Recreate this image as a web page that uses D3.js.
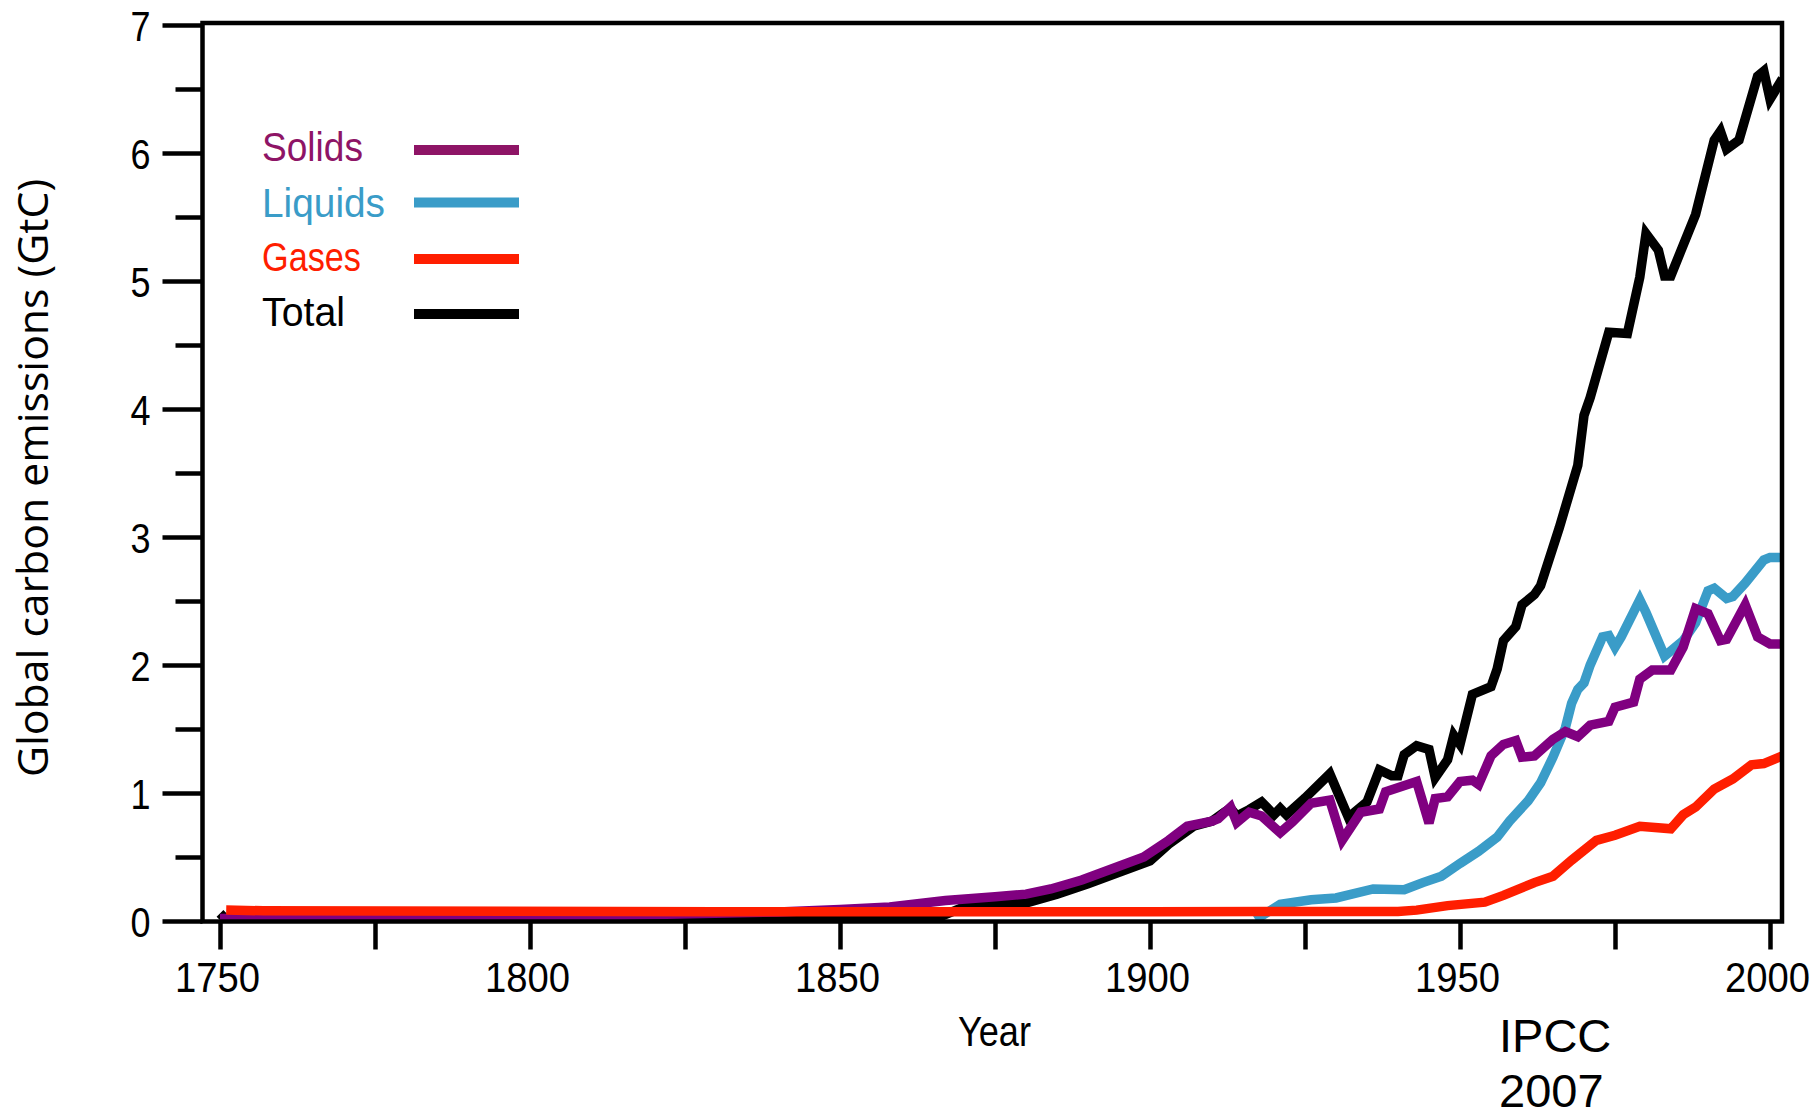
<!DOCTYPE html>
<html>
<head>
<meta charset="utf-8">
<script src="https://cdn.jsdelivr.net/npm/d3@7"></script>
<style>
  html, body { margin: 0; padding: 0; background: #fff; }
  svg { display: block; }
</style>
</head>
<body>
<svg id="chart" width="1814" height="1112"></svg>
<script>
// ---------------- DATA ----------------
const seriesNames = ["Solids", "Liquids", "Gases", "Total"];
const xTickYears = [1750, 1775, 1800, 1825, 1850, 1875, 1900, 1925, 1950, 1975, 2000];
const xTickLabels = ["1750", "", "1800", "", "1850", "", "1900", "", "1950", "", "2000"];
const yMajorTicks = [0, 1, 2, 3, 4, 5, 6, 7];
const yMinorTicks = [0.5, 1.5, 2.5, 3.5, 4.5, 5.5, 6.5];

const totalYears  = [1750,1751,1860,1866,1870,1875,1880,1885,1890,1895,1900,1903,1907,1910,1912,1913,1914,1916,1918,1920,1921,1922,1925,1929,1932,1935,1937,1939,1940,1941,1943,1945,1946,1948,1949,1950,1952,1955,1956,1957,1959,1960,1962,1963,1966,1969,1970,1971,1974,1977,1979,1980,1982,1983,1984,1988,1991,1992,1993,1995,1998,1999,2000,2002];
const totalValues = [0.06,0.01,0.01,0.03,0.11,0.13,0.14,0.21,0.29,0.38,0.47,0.60,0.74,0.78,0.85,0.88,0.82,0.87,0.93,0.83,0.88,0.83,0.96,1.15,0.81,0.93,1.18,1.135,1.135,1.30,1.37,1.34,1.12,1.26,1.45,1.38,1.77,1.83,1.97,2.19,2.30,2.47,2.55,2.62,3.07,3.56,3.95,4.09,4.60,4.59,5.03,5.37,5.24,5.04,5.04,5.52,6.10,6.17,6.03,6.10,6.60,6.64,6.42,6.58];

const solidsYears  = [1750,1800,1820,1840,1850,1858,1867,1875,1880,1884,1889,1894,1899,1903,1906,1910,1911,1913,1914,1916,1918,1921,1923,1926,1929,1931,1934,1937,1938,1943,1945,1946,1948,1950,1952,1953,1955,1957,1959,1960,1962,1965,1967,1969,1971,1974,1975,1978,1979,1981,1984,1986,1988,1990,1992,1993,1996,1998,2000,2002];
const solidsValues = [0.02,0.03,0.05,0.07,0.09,0.11,0.16,0.19,0.21,0.25,0.32,0.41,0.50,0.63,0.74,0.78,0.80,0.89,0.77,0.85,0.82,0.69,0.775,0.92,0.945,0.63,0.85,0.875,1.01,1.09,0.765,0.957,0.97,1.09,1.10,1.066,1.29,1.38,1.41,1.28,1.29,1.42,1.48,1.44,1.53,1.56,1.67,1.71,1.89,1.96,1.96,2.14,2.44,2.40,2.19,2.20,2.47,2.22,2.165,2.165];

const liquidsYears  = [1917,1920,1921,1926,1930,1936,1941,1944,1947,1950,1953,1956,1958,1961,1963,1965,1967,1968,1969,1970,1971,1973,1974,1975,1976,1979,1980,1983,1986,1988,1990,1991,1993,1994,1996,1999,2000,2002];
const liquidsValues = [0.01,0.10,0.13,0.166,0.18,0.25,0.245,0.30,0.35,0.45,0.545,0.655,0.78,0.94,1.08,1.28,1.51,1.70,1.81,1.86,2.00,2.22,2.23,2.14,2.22,2.51,2.41,2.07,2.19,2.33,2.58,2.60,2.52,2.535,2.64,2.82,2.84,2.84];

const gasesYears  = [1751,1757,1830,1900,1940,1943,1948,1954,1957,1962,1965,1968,1972,1975,1979,1984,1986,1988,1991,1994,1997,1999,2002];
const gasesValues = [0.085,0.08,0.072,0.073,0.075,0.085,0.12,0.147,0.20,0.30,0.35,0.475,0.63,0.67,0.74,0.72,0.83,0.89,1.03,1.11,1.22,1.23,1.29];

const xTitle = "Year";
const yTitle = "Global carbon emissions (GtC)";
const sourceLines = ["IPCC", "2007"];

// ---------------- STYLE / LAYOUT ----------------
const lineColors = { Solids: "#800080", Liquids: "#3a9cc8", Gases: "#ff1e00", Total: "#000000" };
const legendColors = { Solids: "#8e1466", Liquids: "#3a9cc8", Gases: "#ff1e00", Total: "#000000" };
// condensed look emulated with textLength (reference uses a narrow humanist face)
const legendTextWidths = { Solids: 101, Liquids: 123, Gases: 99, Total: 83 };
const tickFont = "'Liberation Sans', Arial, sans-serif";

const frame = { left: 202.5, right: 1782, top: 23, bottom: 921.5 };

const svg = d3.select("#chart");
const x = d3.scaleLinear().domain([1750, 2000]).range([220, 1770]);
const y = d3.scaleLinear().domain([0, 7]).range([921, 25]);

// clip
svg.append("defs").append("clipPath").attr("id", "plotclip")
  .append("rect").attr("x", frame.left).attr("y", frame.top)
  .attr("width", frame.right - frame.left).attr("height", frame.bottom - frame.top);

// lines
const zip = (ys, vs) => ys.map((yr, i) => ({ year: yr, value: vs[i] }));
const series = [
  { name: "Total", data: zip(totalYears, totalValues) },
  { name: "Liquids", data: zip(liquidsYears, liquidsValues) },
  { name: "Solids", data: zip(solidsYears, solidsValues) },
  { name: "Gases", data: zip(gasesYears, gasesValues) }
];
const line = d3.line().x(d => x(d.year)).y(d => y(d.value));
const gLines = svg.append("g").attr("clip-path", "url(#plotclip)");
gLines.selectAll("path").data(series).join("path")
  .attr("d", d => line(d.data))
  .attr("fill", "none")
  .attr("stroke", d => lineColors[d.name])
  .attr("stroke-width", 9.5)
  .attr("stroke-linejoin", "miter")
  .attr("stroke-miterlimit", 3)
  .attr("stroke-linecap", "butt");

// frame
svg.append("rect")
  .attr("x", frame.left).attr("y", frame.top)
  .attr("width", frame.right - frame.left).attr("height", frame.bottom - frame.top)
  .attr("fill", "none").attr("stroke", "#000").attr("stroke-width", 4.5);

// y axis major
const yAxisMajor = d3.axisLeft(y).tickValues(yMajorTicks).tickSize(40).tickPadding(0).tickFormat(d3.format("d"));
const gyMaj = svg.append("g").attr("transform", `translate(${frame.left},0)`).call(yAxisMajor);
gyMaj.select(".domain").remove();
gyMaj.selectAll(".tick line").attr("stroke", "#000").attr("stroke-width", 4.5);
gyMaj.selectAll(".tick text")
  .attr("x", -52).attr("dy", "0.36em")
  .attr("font-family", tickFont).attr("font-size", 42).attr("fill", "#000")
  .attr("textLength", 20).attr("lengthAdjust", "spacingAndGlyphs")
  .attr("text-anchor", "end");

// y axis minor
const yAxisMinor = d3.axisLeft(y).tickValues(yMinorTicks).tickSize(27).tickFormat("");
const gyMin = svg.append("g").attr("transform", `translate(${frame.left},0)`).call(yAxisMinor);
gyMin.select(".domain").remove();
gyMin.selectAll(".tick line").attr("stroke", "#000").attr("stroke-width", 4.5);

// x axis
const xAxis = d3.axisBottom(x).tickValues(xTickYears).tickSize(28)
  .tickFormat((d, i) => xTickLabels[i]);
const gx = svg.append("g").attr("transform", `translate(0,${frame.bottom})`).call(xAxis);
gx.select(".domain").remove();
gx.selectAll(".tick line").attr("stroke", "#000").attr("stroke-width", 4.5);
gx.selectAll(".tick text")
  .attr("y", 70).attr("dy", 0).attr("x", -3)
  .attr("font-family", tickFont).attr("font-size", 42).attr("fill", "#000")
  .attr("textLength", d => xTickLabels[xTickYears.indexOf(d)] ? 85 : null)
  .attr("lengthAdjust", "spacingAndGlyphs");

// axis titles
svg.append("text")
  .attr("transform", "translate(48,478) rotate(-90)")
  .attr("text-anchor", "middle")
  .attr("font-family", "'Open Sans', 'Noto Sans', sans-serif")
  .attr("font-size", 42.5).attr("fill", "#000")
  .attr("textLength", 598).attr("lengthAdjust", "spacingAndGlyphs")
  .text(yTitle);

svg.append("text")
  .attr("x", 994.5).attr("y", 1045.5)
  .attr("text-anchor", "middle")
  .attr("font-family", tickFont).attr("font-size", 42).attr("fill", "#000")
  .attr("textLength", 73).attr("lengthAdjust", "spacingAndGlyphs")
  .text(xTitle);

// legend
const legendTextY = [160.7, 216.5, 270.7, 326];
const legendLineY = [150, 202.5, 259, 314];
const gLeg = svg.append("g");
seriesNames.forEach((name, i) => {
  gLeg.append("text")
    .attr("x", 262).attr("y", legendTextY[i])
    .attr("font-family", tickFont).attr("font-size", 41)
    .attr("textLength", legendTextWidths[name]).attr("lengthAdjust", "spacingAndGlyphs")
    .attr("fill", legendColors[name])
    .text(name);
  gLeg.append("line")
    .attr("x1", 414).attr("x2", 519)
    .attr("y1", legendLineY[i]).attr("y2", legendLineY[i])
    .attr("stroke", legendColors[name]).attr("stroke-width", 10);
});

// source note
sourceLines.forEach((t, i) => {
  svg.append("text")
    .attr("x", 1499).attr("y", 1052 + i * 55)
    .attr("font-family", "'Liberation Sans', Arial, sans-serif")
    .attr("font-size", 47).attr("fill", "#000")
    .text(t);
});
</script>
</body>
</html>
